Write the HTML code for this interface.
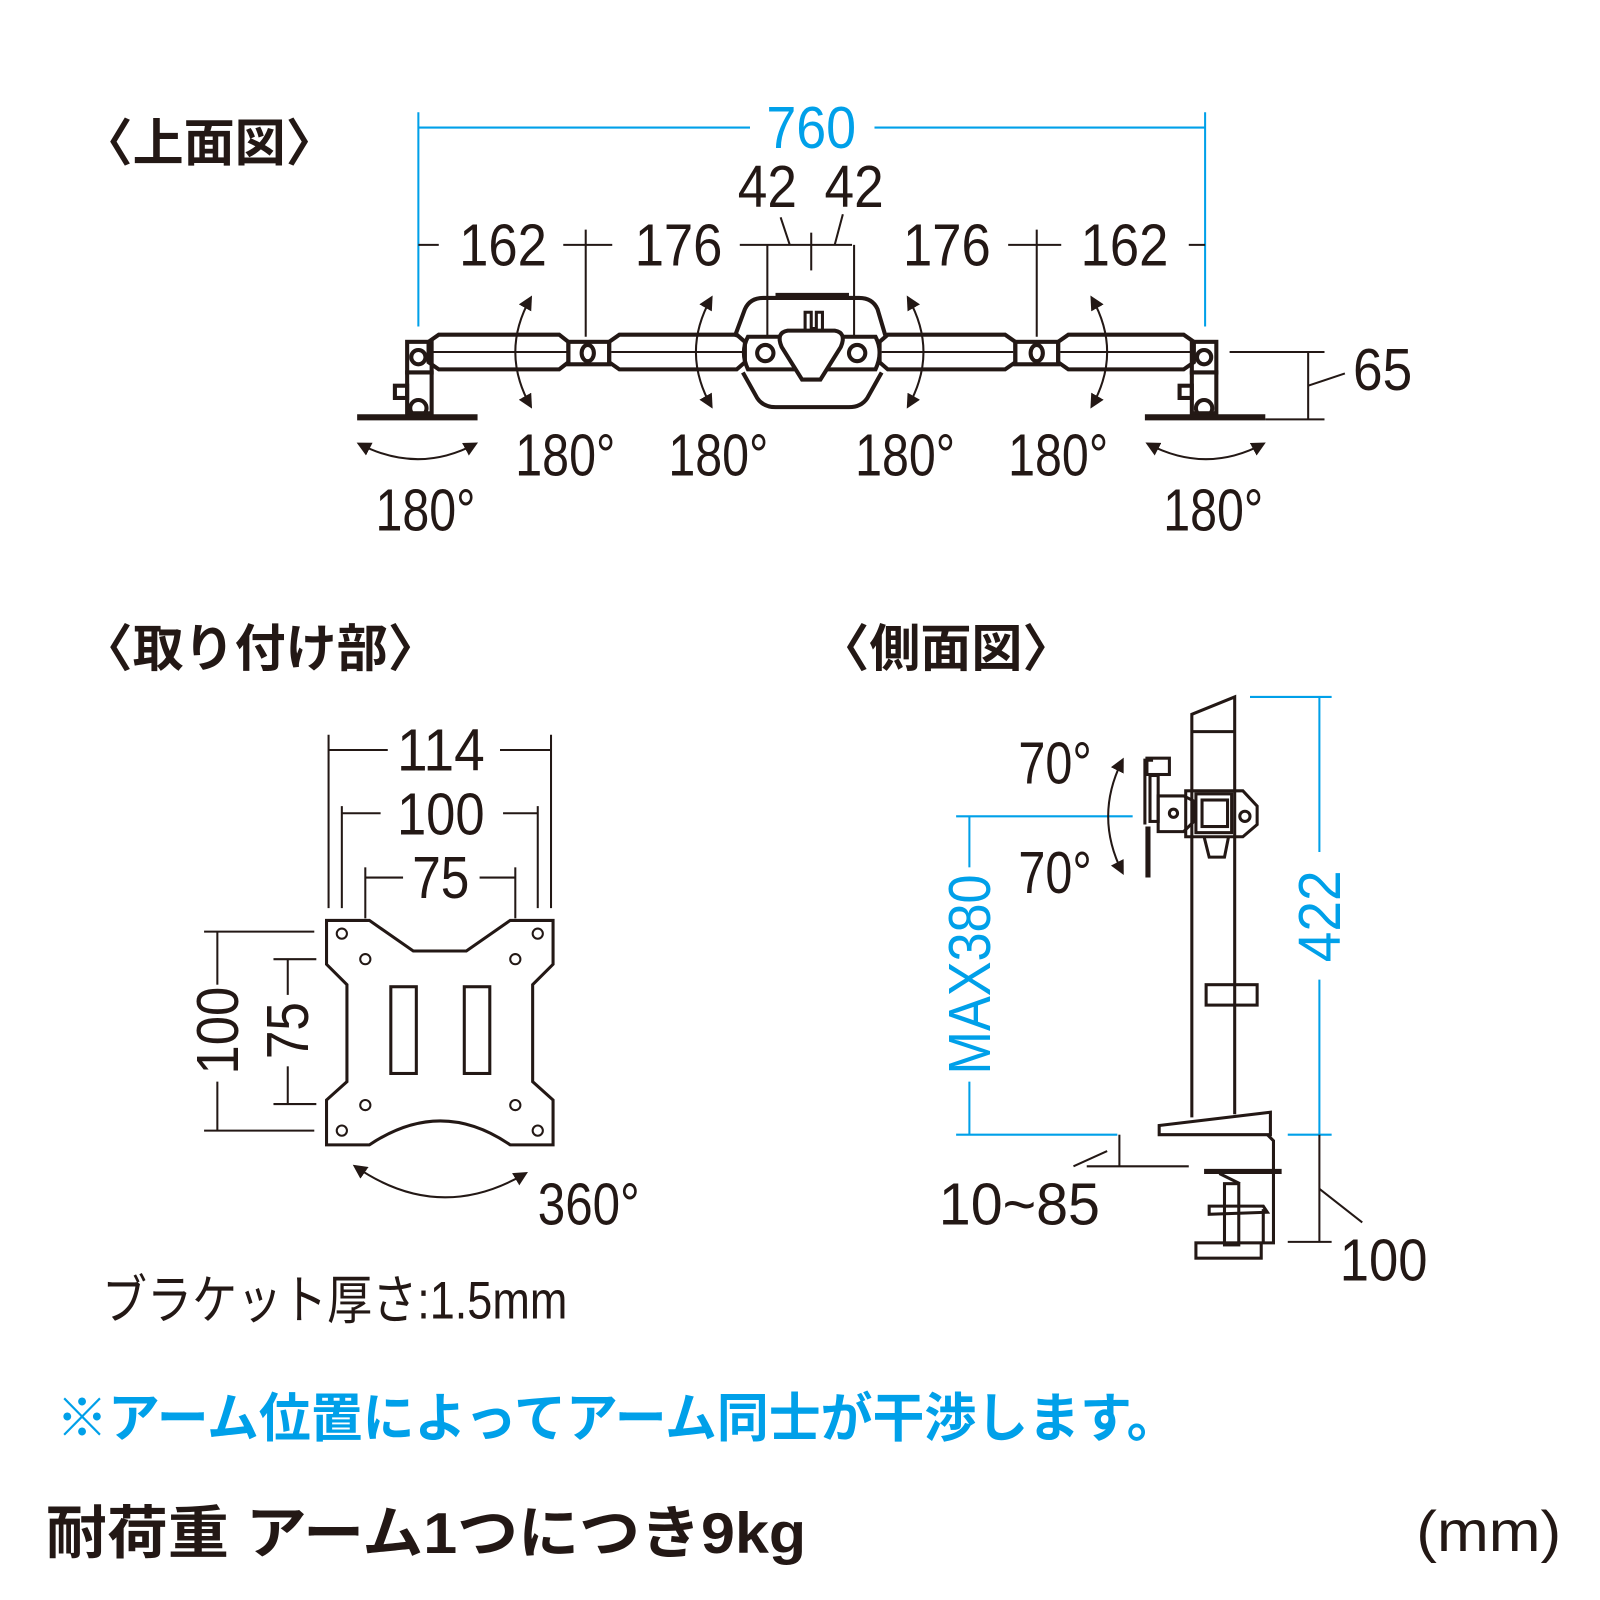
<!DOCTYPE html>
<html><head><meta charset="utf-8"><style>
html,body{margin:0;padding:0;background:#fff}
svg{display:block}
.n{font-family:"Liberation Sans Narrow","Liberation Sans",sans-serif;font-size:58px;fill:#231815}
.b{fill:#00a0e9}
.t{font-family:"Liberation Sans","Noto Sans CJK JP",sans-serif;font-weight:bold;fill:#231815}
</style></head><body>
<svg width="1600" height="1600" viewBox="0 0 1568 1568" xmlns="http://www.w3.org/2000/svg">
<defs>
<marker id="a" viewBox="0 0 10 10" refX="8" refY="5" markerWidth="7" markerHeight="7" orient="auto-start-reverse"><path d="M0,0L10,5L0,10z" fill="#231815"/></marker>
</defs>
<g stroke="#231815" stroke-width="2" fill="none">
<g stroke="#00a0e9"><line x1="410" y1="110" x2="410" y2="320"/><line x1="1181" y1="110" x2="1181" y2="320"/><line x1="410" y1="125" x2="735" y2="125"/><line x1="857" y1="125" x2="1181" y2="125"/></g>
<line x1="410" y1="240" x2="430" y2="240"/><line x1="552" y1="240" x2="600" y2="240"/><line x1="574" y1="225" x2="574" y2="330"/>
<line x1="725" y1="240" x2="835" y2="240"/><line x1="752" y1="240" x2="752" y2="330"/><line x1="837" y1="240" x2="837" y2="330"/><line x1="795" y1="228" x2="795" y2="265"/>
<line x1="765" y1="213" x2="774" y2="240"/><line x1="826" y1="210" x2="818" y2="240"/>
<line x1="988" y1="240" x2="1040" y2="240"/><line x1="1016" y1="225" x2="1016" y2="330"/><line x1="1165" y1="240" x2="1181" y2="240"/>
<g stroke-width="4">
<path d="M420,335 L430,328 L548,328 L557,335 L557,355 L548,362 L430,362 L420,355Z"/>
<line x1="422" y1="345" x2="556" y2="345" stroke-width="2"/>
<rect x="557" y="335" width="40" height="22"/><ellipse cx="576" cy="346" rx="6" ry="8"/>
<path d="M597,335 L607,328 L722,328 L730,335 L730,355 L722,362 L607,362 L597,355Z"/>
<line x1="599" y1="345" x2="728" y2="345" stroke-width="2"/>
<path d="M862,335 L870,328 L985,328 L995,335 L995,355 L985,362 L870,362 L862,355Z"/>
<line x1="864" y1="345" x2="993" y2="345" stroke-width="2"/>
<rect x="995" y="335" width="42" height="22"/><ellipse cx="1016" cy="346" rx="6" ry="8"/>
<path d="M1037,335 L1047,328 L1160,328 L1170,335 L1170,355 L1160,362 L1047,362 L1037,355Z"/>
<line x1="1039" y1="345" x2="1168" y2="345" stroke-width="2"/>
<path d="M720,330 L730,303 Q735,292 748,292 L842,292 Q855,292 860,303 L868,330 M728,365 L742,390 Q748,399 760,399 L832,399 Q844,399 850,390 L864,365" />
<path d="M733,330 L858,330 Q866,345 858,362 L733,362 Q725,345 733,330Z"/>
<circle cx="750" cy="346" r="8"/><circle cx="840" cy="346" r="8"/>
<path d="M772,324 L818,324 Q830,326 824,340 L804,372 L786,372 L766,340 Q760,326 772,324Z" fill="#fff"/>
<line x1="760" y1="290" x2="832" y2="290" stroke-width="6"/>
<path d="M789,324 L789,306 L795,306 L795,322 L800,322 L800,306 L806,306 L806,324" stroke-width="3"/>
<rect x="399" y="335" width="24" height="30"/><circle cx="410" cy="350" r="7"/>
<rect x="399" y="365" width="24" height="40"/><rect x="387" y="378" width="12" height="12"/><circle cx="410" cy="400" r="8"/>
<rect x="1168" y="335" width="24" height="30"/><circle cx="1180" cy="350" r="7"/>
<rect x="1168" y="365" width="24" height="40"/><rect x="1156" y="378" width="12" height="12"/><circle cx="1180" cy="400" r="8"/>
</g>
<line x1="350" y1="409" x2="468" y2="409" stroke-width="6"/>
<line x1="1122" y1="409" x2="1240" y2="409" stroke-width="6"/>
<g marker-start="url(#a)" marker-end="url(#a)">
<path d="M520,292 Q490,345 520,398"/><path d="M697,292 Q667,345 697,398"/>
<path d="M890,292 Q920,345 890,398"/><path d="M1070,292 Q1100,345 1070,398"/>
<path d="M352,435 Q410,465 466,435"/><path d="M1125,435 Q1182,465 1238,435"/>
</g>
<line x1="1205" y1="345" x2="1298" y2="345"/><line x1="1240" y1="411" x2="1298" y2="411"/><line x1="1282" y1="345" x2="1282" y2="411"/><line x1="1282" y1="378" x2="1318" y2="366"/>

<path stroke-width="3" d="M320,902 L362,902 L405,932 L457,932 L500,902 L542,902 L542,945 L522,965 L522,1060 L542,1078 L542,1122 L500,1122 Q432,1075 362,1122 L320,1122 L320,1078 L340,1060 L340,965 L320,945Z"/>
<g stroke-width="2"><circle cx="335" cy="915" r="5"/><circle cx="527" cy="915" r="5"/><circle cx="358" cy="940" r="5"/><circle cx="505" cy="940" r="5"/><circle cx="358" cy="1083" r="5"/><circle cx="505" cy="1083" r="5"/><circle cx="335" cy="1108" r="5"/><circle cx="527" cy="1108" r="5"/></g>
<rect x="383" y="967" width="25" height="85" stroke-width="3"/><rect x="455" y="967" width="25" height="85" stroke-width="3"/>
<line x1="322" y1="720" x2="322" y2="890"/><line x1="540" y1="720" x2="540" y2="890"/><line x1="322" y1="735" x2="380" y2="735"/><line x1="490" y1="735" x2="540" y2="735"/>
<line x1="335" y1="790" x2="335" y2="890"/><line x1="527" y1="790" x2="527" y2="890"/><line x1="335" y1="797" x2="373" y2="797"/><line x1="493" y1="797" x2="527" y2="797"/>
<line x1="358" y1="850" x2="358" y2="900"/><line x1="505" y1="850" x2="505" y2="900"/><line x1="358" y1="860" x2="395" y2="860"/><line x1="470" y1="860" x2="505" y2="860"/>
<line x1="200" y1="913" x2="308" y2="913"/><line x1="200" y1="1108" x2="308" y2="1108"/><line x1="213" y1="913" x2="213" y2="965"/><line x1="213" y1="1060" x2="213" y2="1108"/>
<line x1="268" y1="940" x2="310" y2="940"/><line x1="268" y1="1082" x2="310" y2="1082"/><line x1="282" y1="940" x2="282" y2="975"/><line x1="282" y1="1045" x2="282" y2="1082"/>
<path d="M348,1143 Q430,1200 515,1150" marker-start="url(#a)" marker-end="url(#a)"/>

<g stroke="#00a0e9"><line x1="1225" y1="683" x2="1305" y2="683"/><line x1="1262" y1="1112" x2="1305" y2="1112"/><line x1="1293" y1="683" x2="1293" y2="835"/><line x1="1293" y1="960" x2="1293" y2="1112"/>
<line x1="937" y1="800" x2="1110" y2="800"/><line x1="937" y1="1112" x2="1095" y2="1112"/><line x1="950" y1="800" x2="950" y2="850"/><line x1="950" y1="1060" x2="950" y2="1112"/></g>
<g stroke-width="3">
<path d="M1168,1095 L1168,700 L1210,683 L1210,1092"/><line x1="1168" y1="717" x2="1210" y2="717"/>
<rect x="1182" y="965" width="50" height="20"/>
<path d="M1136,1103 L1245,1090 L1245,1112 L1136,1112Z"/>
<path d="M1242,1112 L1248,1118 L1248,1218 L1238,1218 L1238,1185"/>
<line x1="1180" y1="1148" x2="1256" y2="1148" stroke-width="5"/>
<line x1="1195" y1="1150" x2="1215" y2="1160"/><rect x="1200" y="1160" width="14" height="60"/>
<path d="M1185,1182 L1238,1182 L1242,1188 L1185,1190Z"/>
<rect x="1172" y="1218" width="64" height="15"/>
<path d="M1122,808 L1122,745 L1130,745"/><rect x="1124" y="743" width="22" height="16"/>
<rect x="1127" y="760" width="8" height="45"/>
<path d="M1125,810 L1125,860" stroke-width="5"/>
<path d="M1135,780 L1160,780 L1170,785 L1170,805 L1160,815 L1135,815Z"/><circle cx="1150" cy="797" r="4"/>
<path d="M1162,775 L1218,775 L1232,790 L1232,808 L1218,820 L1162,820Z"/>
<rect x="1172" y="778" width="35" height="38"/><rect x="1178" y="784" width="25" height="26"/>
<path d="M1180,820 L1185,840 L1200,840 L1204,820"/>
<circle cx="1220" cy="800" r="5"/>
</g>
<path d="M1100,745 Q1072,800 1100,855" marker-start="url(#a)" marker-end="url(#a)"/>
<line x1="1097" y1="1112" x2="1097" y2="1143"/><line x1="1065" y1="1143" x2="1165" y2="1143"/><line x1="1085" y1="1128" x2="1052" y2="1143"/>
<line x1="1293" y1="1112" x2="1293" y2="1217"/><line x1="1262" y1="1217" x2="1305" y2="1217"/><line x1="1293" y1="1165" x2="1335" y2="1198"/>
</g>

<text class="t" x="80" y="158" font-size="50">〈上面図〉</text>
<text class="n b" x="795" y="145" text-anchor="middle" textLength="88" lengthAdjust="spacingAndGlyphs">760</text>
<text class="n" x="752" y="203" text-anchor="middle" textLength="58" lengthAdjust="spacingAndGlyphs">42</text>
<text class="n" x="837" y="203" text-anchor="middle" textLength="58" lengthAdjust="spacingAndGlyphs">42</text>
<text class="n" x="493" y="260" text-anchor="middle" textLength="86" lengthAdjust="spacingAndGlyphs">162</text>
<text class="n" x="665" y="260" text-anchor="middle" textLength="86" lengthAdjust="spacingAndGlyphs">176</text>
<text class="n" x="928" y="260" text-anchor="middle" textLength="86" lengthAdjust="spacingAndGlyphs">176</text>
<text class="n" x="1102" y="260" text-anchor="middle" textLength="86" lengthAdjust="spacingAndGlyphs">162</text>
<text class="n" x="1355" y="382" text-anchor="middle" textLength="58" lengthAdjust="spacingAndGlyphs">65</text>
<text class="n" x="505" y="466" textLength="98" lengthAdjust="spacingAndGlyphs">180°</text>
<text class="n" x="655" y="466" textLength="98" lengthAdjust="spacingAndGlyphs">180°</text>
<text class="n" x="838" y="466" textLength="98" lengthAdjust="spacingAndGlyphs">180°</text>
<text class="n" x="988" y="466" textLength="98" lengthAdjust="spacingAndGlyphs">180°</text>
<text class="n" x="368" y="520" textLength="98" lengthAdjust="spacingAndGlyphs">180°</text>
<text class="n" x="1140" y="520" textLength="98" lengthAdjust="spacingAndGlyphs">180°</text>

<text class="t" x="80" y="653" font-size="50">〈取り付け部〉</text>
<text class="n" x="432" y="755" text-anchor="middle" textLength="86" lengthAdjust="spacingAndGlyphs">114</text>
<text class="n" x="432" y="818" text-anchor="middle" textLength="86" lengthAdjust="spacingAndGlyphs">100</text>
<text class="n" x="432" y="880" text-anchor="middle" textLength="56" lengthAdjust="spacingAndGlyphs">75</text>
<text class="n" transform="translate(233,1010) rotate(-90)" text-anchor="middle" textLength="86" lengthAdjust="spacingAndGlyphs">100</text>
<text class="n" transform="translate(302,1010) rotate(-90)" text-anchor="middle" textLength="56" lengthAdjust="spacingAndGlyphs">75</text>
<text class="n" x="527" y="1200" textLength="100" lengthAdjust="spacingAndGlyphs">360°</text>
<text x="100" y="1292" font-family="'Liberation Sans','Noto Sans CJK JP',sans-serif" font-size="52" fill="#231815" textLength="456" lengthAdjust="spacingAndGlyphs">ブラケット厚さ:1.5mm</text>

<text class="t" x="802" y="653" font-size="50">〈側面図〉</text>
<text class="n" x="998" y="768" textLength="72" lengthAdjust="spacingAndGlyphs">70°</text>
<text class="n" x="998" y="875" textLength="72" lengthAdjust="spacingAndGlyphs">70°</text>
<text class="n b" transform="translate(970,955) rotate(-90)" text-anchor="middle" textLength="196" lengthAdjust="spacingAndGlyphs">MAX380</text>
<text class="n b" transform="translate(1313,898) rotate(-90)" text-anchor="middle" textLength="90" lengthAdjust="spacingAndGlyphs">422</text>
<text class="n" x="920" y="1200" textLength="158" lengthAdjust="spacingAndGlyphs">10~85</text>
<text class="n" x="1313" y="1255" textLength="86" lengthAdjust="spacingAndGlyphs">100</text>

<text class="t" x="55" y="1408" font-size="52" style="fill:#00a0e9" textLength="1100" lengthAdjust="spacingAndGlyphs">※アーム位置によってアーム同士が干渉します。</text>
<text class="t" x="45" y="1522" font-size="56" textLength="745" lengthAdjust="spacingAndGlyphs">耐荷重 アーム1つにつき9kg</text>
<text x="1530" y="1520" text-anchor="end" font-family="'Liberation Sans',sans-serif" font-size="56" fill="#231815" textLength="142" lengthAdjust="spacingAndGlyphs">(mm)</text>
</svg>
</body></html>
